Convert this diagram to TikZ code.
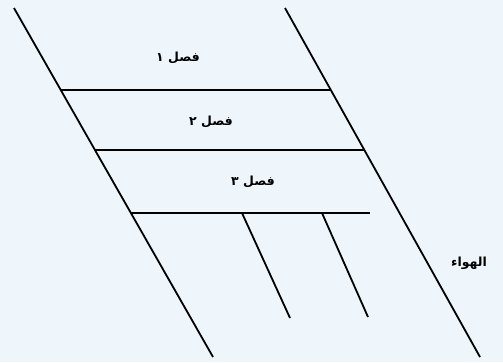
\documentclass[tikz,border=0pt]{standalone}
\usepackage{fontspec}
\newfontfamily\arabicfont[Script=Arabic]{DejaVu Sans}
\TeXXeTstate=1
\definecolor{bgc}{HTML}{EEF5FB}
\begin{document}
\begin{tikzpicture}[x=1pt,y=-1pt,
  ln/.style={line width=1.8pt,black},
  lbl/.style={font=\arabicfont\bfseries\fontsize{12.5}{14}\selectfont,inner sep=0pt}]
\fill[bgc] (0,0) rectangle (503,362);
\useasboundingbox (0,0) rectangle (503,362);
% long slanted lines
\coordinate (L1a) at (14,8);   \coordinate (L1b) at (213,357);
\coordinate (L2a) at (285,8);  \coordinate (L2b) at (480,357);
\draw[ln] (L1a) -- (L1b);
\draw[ln] (L2a) -- (L2b);
% horizontal lines
\coordinate (H1a) at (61,90);  \coordinate (H1b) at (331,90);
\coordinate (H2a) at (95,150); \coordinate (H2b) at (364,150);
\coordinate (H3a) at (131,213);\coordinate (H3b) at (370,213);
\draw[ln] (H1a) -- (H1b);
\draw[ln] (H2a) -- (H2b);
\draw[ln] (H3a) -- (H3b);
% short slanted lines
\coordinate (S1a) at (242,213); \coordinate (S1b) at (290,318);
\coordinate (S2a) at (322,213); \coordinate (S2b) at (368,317);
\draw[ln] (S1a) -- (S1b);
\draw[ln] (S2a) -- (S2b);
% labels
\node[lbl] (t1) at (178,58) {\beginR فصل ۱\endR};
\node[lbl] (t2) at (211,122) {\beginR فصل ۲\endR};
\node[lbl] (t3) at (253,182) {\beginR فصل ۳\endR};
\node[lbl,anchor=west] (t4) at (451,263) {\beginR الهواء\endR};
\end{tikzpicture}
\end{document}
